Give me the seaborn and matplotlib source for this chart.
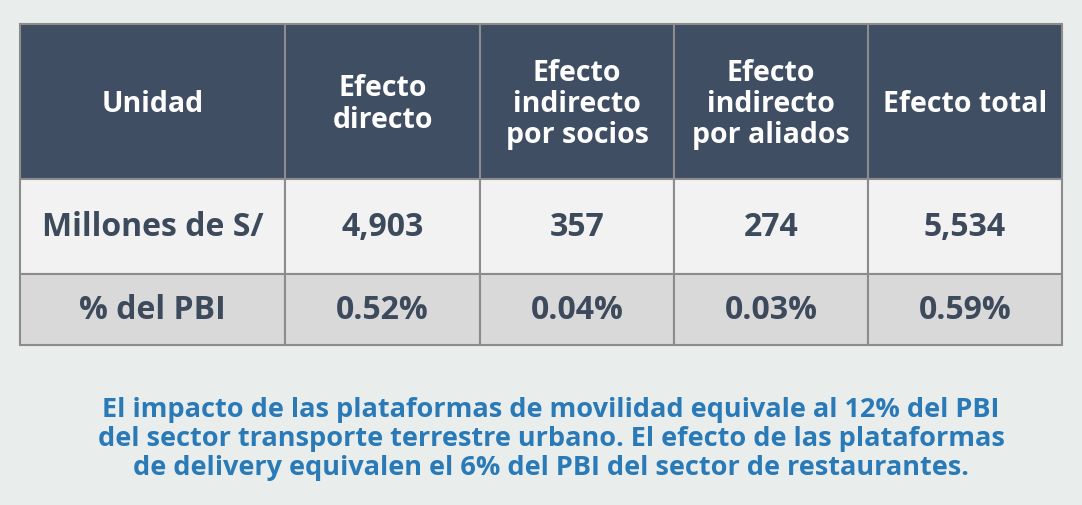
import matplotlib
matplotlib.use("Agg")
import matplotlib.pyplot as plt
import seaborn as sns
from matplotlib.patches import Rectangle

sns.set_theme(style="white")

headers = ["Unidad", "Efecto\ndirecto", "Efecto\nindirecto\npor socios", "Efecto\nindirecto\npor aliados", "Efecto total"]
row_labels = ["Millones de S/", "% del PBI"]
millones = ["4,903", "357", "274", "5,534"]
pbi = ["0.52%", "0.04%", "0.03%", "0.59%"]
caption = ("El impacto de las plataformas de movilidad equivale al 12% del PBI\n"
           "del sector transporte terrestre urbano. El efecto de las plataformas\n"
           "de delivery equivalen el 6% del PBI del sector de restaurantes.")

W, H = 1082, 506
col_edges = [20, 285, 480, 674, 868, 1062]
row_edges = [25, 180, 275, 346]
row_fills = ["#3f4e63", "#f2f2f2", "#d9d9d9"]
bg = "#e9edeb"
txt_dark = "#3d4a5c"
font = "Open Sans"

fig = plt.figure(figsize=(W/100, H/100), dpi=100, facecolor=bg)
ax = fig.add_axes([0, 0, 1, 1])
ax.set_xlim(0, W); ax.set_ylim(H, 0); ax.axis("off")
ax.set_facecolor(bg)

rows = [headers, [row_labels[0]] + millones, [row_labels[1]] + pbi]
for r, cells in enumerate(rows):
    y0, y1 = row_edges[r], row_edges[r+1]
    for c, t in enumerate(cells):
        x0, x1 = col_edges[c], col_edges[c+1]
        ax.add_patch(Rectangle((x0, y0), x1-x0, y1-y0, facecolor=row_fills[r],
                               edgecolor="#8c8c8c", linewidth=1.5))
        if r == 0:
            ax.text((x0+x1)/2, (y0+y1)/2 + 2, t, ha="center", va="center", color="white",
                    fontsize=20.5, fontweight="bold", family=font, linespacing=1.1)
        else:
            ax.text((x0+x1)/2, (y0+y1)/2, t, ha="center", va="center", color=txt_dark,
                    fontsize=23, fontweight="bold", family=font)

ax.text(551, 439, caption, ha="center", va="center", color="#2a7ab8",
        fontsize=19.5, fontweight="bold", family=font, linespacing=1.15)

fig.savefig("out.png", dpi=100, facecolor=bg)
